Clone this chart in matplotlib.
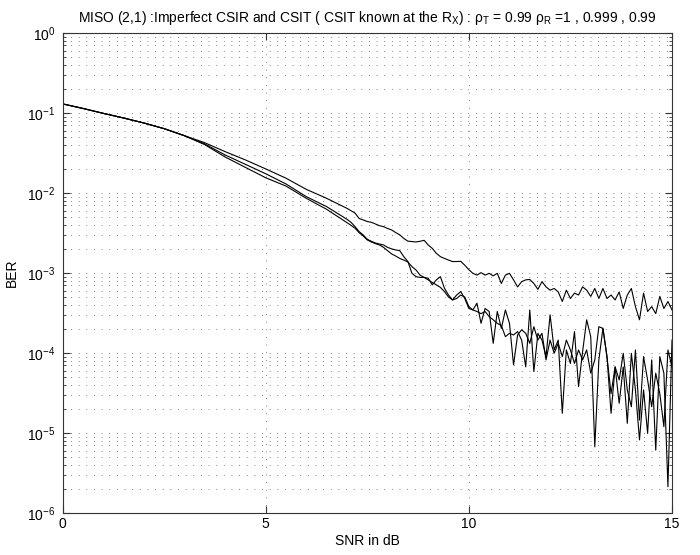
import numpy as np
import matplotlib
matplotlib.use("Agg")
import matplotlib.pyplot as plt
from matplotlib.ticker import FixedLocator, NullFormatter, LogFormatterSciNotation

plt.rcParams["font.family"] = ["Liberation Sans", "DejaVu Sans"]
plt.rcParams["mathtext.fontset"] = "custom"
plt.rcParams["mathtext.rm"] = "Liberation Sans"
plt.rcParams["mathtext.it"] = "Liberation Sans:italic"

# SNR grid: coarse steps on the smooth part, 0.1 dB once the curves get noisy
snr_db = np.concatenate([np.arange(0.0, 7.0, 0.5),
                         np.round(np.arange(7.0, 15.001, 0.1), 1)])

# rho_R = 0.99 (error floor)
ber_r099 = [
    0.13, 0.114, 0.099, 0.0866, 0.075, 0.0637, 0.052, 0.0425, 0.0329, 0.0259,
    0.020, 0.0153, 0.0111, 0.00857,
    6.43e-3, 6.0e-3, 5.6e-3, 4.8e-3, 4.6e-3, 4.4e-3, 4.3e-3, 4.1e-3, 3.9e-3, 3.8e-3,
    3.6e-3, 3.45e-3, 3.2e-3, 3.0e-3, 2.7e-3, 2.5e-3, 2.47e-3, 2.44e-3, 2.49e-3, 2.56e-3,
    2.24e-3, 2.03e-3, 1.76e-3, 1.6e-3, 1.52e-3, 1.45e-3, 1.39e-3, 1.39e-3, 1.40e-3, 1.25e-3,
    1.10e-3,
    9.9e-4, 9.4e-4, 1.01e-3, 9.4e-4, 9.9e-4, 9.2e-4, 9.9e-4, 7.4e-4, 9.4e-4, 9.9e-4,
    8.2e-4, 6.7e-4, 7.8e-4, 8.2e-4, 8.3e-4, 7.4e-4, 6.25e-4, 7.8e-4, 6.7e-4, 6.1e-4,
    6.4e-4, 5.8e-4, 4.4e-4, 6.1e-4, 4.8e-4, 5.6e-4, 5.3e-4, 6.7e-4, 6.1e-4, 5.1e-4,
    6.4e-4, 4.8e-4, 6.4e-4, 4.8e-4, 5.3e-4, 4.6e-4, 5.8e-4, 3.6e-4, 5.3e-4, 6.4e-4,
    3.8e-4, 2.6e-4, 5.6e-4, 3.3e-4, 3.8e-4, 3.1e-4, 5.1e-4, 3.6e-4, 4.4e-4, 3.45e-4,
]

# rho_R = 1
ber_r1 = [
    0.13, 0.114, 0.099, 0.0866, 0.075, 0.0637, 0.052, 0.041, 0.0299, 0.0228,
    0.0174, 0.01296, 0.0090, 0.00675,
    4.69e-3, 4.30e-3, 3.79e-3, 3.29e-3, 2.99e-3, 2.64e-3, 2.49e-3, 2.37e-3, 2.30e-3, 2.24e-3,
    2.09e-3, 2.0e-3, 1.94e-3, 1.90e-3, 1.60e-3, 1.39e-3, 9.9e-4, 9.0e-4, 8.8e-4, 8.8e-4,
    8.6e-4, 7.1e-4, 8.2e-4, 9.0e-4, 6.45e-4, 5.3e-4, 4.6e-4, 5.3e-4, 5.85e-4, 4.8e-4,
    3.6e-4,
    3.45e-4, 3.3e-4, 3.1e-4, 3.3e-4, 2.85e-4, 2.6e-4, 2.35e-4, 2.2e-4, 1.6e-4, 1.76e-4,
    1.68e-4, 1.85e-4, 1.45e-4, 6.7e-5, 3.45e-4, 5.85e-5, 1.76e-4, 1.45e-4, 9.0e-5, 3.0e-4,
    1.09e-4, 1.45e-4, 1.76e-5, 1.09e-4, 7.4e-5, 1.85e-4, 3.8e-5, 1.04e-4, 2.6e-4, 1.6e-4,
    6.7e-6, 8.2e-5, 2.03e-4, 9.0e-5, 1.76e-5, 6.7e-5, 2.35e-5, 6.7e-5, 1.32e-5, 9.9e-5,
    3.45e-5, 8.2e-6, 3.45e-5, 9.9e-6, 8.2e-5, 6.1e-6, 9.0e-5, 5.6e-5, 2.13e-6, 1.45e-4,
]

# rho_R = 0.999
ber_r0999 = [
    0.13, 0.114, 0.099, 0.0866, 0.075, 0.0637, 0.052, 0.0402, 0.0282, 0.0209,
    0.0155, 0.0122, 0.00857, 0.00625,
    4.26e-3, 3.94e-3, 3.62e-3, 3.19e-3, 2.90e-3, 2.59e-3, 2.44e-3, 2.33e-3, 2.24e-3, 2.09e-3,
    1.90e-3, 1.73e-3, 1.63e-3, 1.52e-3, 1.45e-3, 1.37e-3, 1.20e-3, 1.09e-3, 9.4e-4, 8.8e-4,
    8.2e-4, 7.6e-4, 7.1e-4, 6.6e-4, 5.85e-4, 5.0e-4, 4.6e-4, 4.8e-4, 5.3e-4, 5.0e-4,
    3.8e-4,
    3.45e-4, 4.2e-4, 2.35e-4, 3.6e-4, 3.3e-4, 1.32e-4, 3.3e-4, 2.03e-4, 3.45e-4, 2.35e-4,
    7.1e-5, 1.68e-4, 1.95e-4, 1.76e-4, 1.32e-4, 2.13e-4, 1.45e-4, 1.76e-4, 8.2e-5, 1.45e-4,
    9.9e-5, 1.32e-4, 9.0e-5, 1.45e-4, 1.09e-4, 7.4e-5, 1.09e-4, 8.2e-5, 1.09e-4, 5.6e-5,
    8.2e-5, 2.13e-4, 2.03e-4, 9.0e-5, 3.1e-5, 6.7e-5, 4.6e-5, 9.9e-5, 3.45e-5, 2.13e-5,
    1.09e-4, 1.45e-5, 9.0e-5, 4.6e-5, 2.13e-5, 5.6e-5, 3.1e-5, 1.2e-5, 1.09e-4, 6.7e-5,
]

x_ticks = [0, 5, 10, 15]
y_decades = [1e-6, 1e-5, 1e-4, 1e-3, 1e-2, 1e-1, 1e0]

fig = plt.figure(figsize=(7.0, 5.55), dpi=100)
ax = fig.add_axes([0.0893, 0.0757, 0.8707, 0.8649])

for ber in (ber_r099, ber_r1, ber_r0999):
    ax.semilogy(snr_db, ber, color="black", lw=0.8)

ax.set_xlim(0, 15)
ax.set_ylim(1e-6, 1)
ax.xaxis.set_major_locator(FixedLocator(x_ticks))
ax.yaxis.set_major_locator(FixedLocator(y_decades))
ax.yaxis.set_major_formatter(LogFormatterSciNotation())
minor = [k * d for d in y_decades[:-1] for k in range(2, 10)]
ax.yaxis.set_minor_locator(FixedLocator(minor))
ax.yaxis.set_minor_formatter(NullFormatter())

# dotted grid, inward ticks on all four sides
dots = (0, (1, 9))
ax.grid(True, which="major", axis="both", color="0.25", lw=0.55, linestyle=dots)
ax.grid(True, which="minor", axis="y", color="0.25", lw=0.55, linestyle=dots)
ax.tick_params(which="both", direction="in", top=True, right=True,
               labelsize=10, color="0.2")
ax.tick_params(which="major", length=5)
ax.tick_params(axis="x", which="major", pad=3)
ax.tick_params(axis="y", which="major", pad=5)
ax.tick_params(which="minor", length=2.5)
for s in ax.spines.values():
    s.set_color("0.2")
    s.set_linewidth(0.8)

ax.set_xlabel("SNR in dB", fontsize=10, labelpad=2)
ax.set_ylabel("BER", fontsize=10, labelpad=6)
ax.set_title("MISO (2,1) :Imperfect CSIR and CSIT ( CSIT known at the R$_\\mathrm{X}$) : "
             "ρ$_\\mathrm{T}$ = 0.99 ρ$_\\mathrm{R}$ =1 , 0.999 , 0.99",
             fontsize=10, pad=8)

fig.savefig("out.png", dpi=100)
